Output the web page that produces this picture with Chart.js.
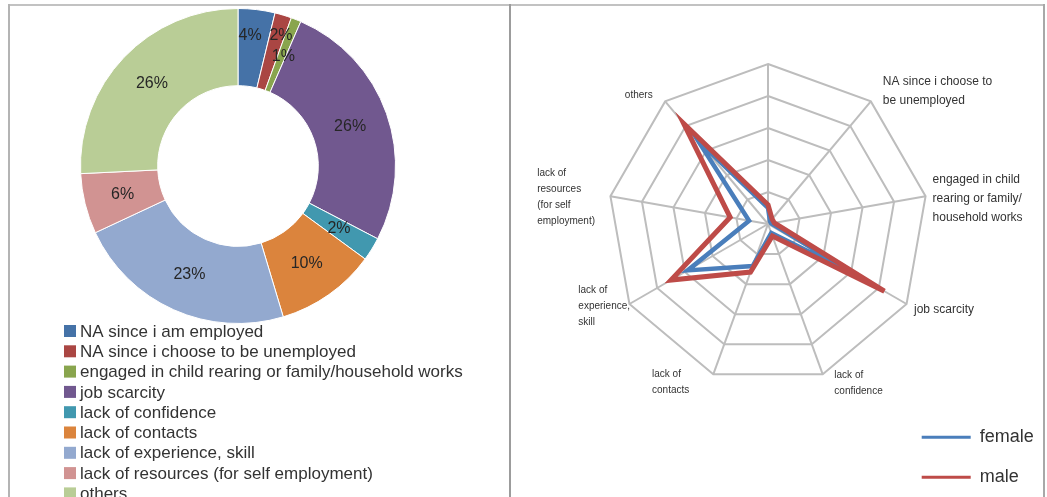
<!DOCTYPE html>
<html>
<head>
<meta charset="utf-8">
<script src="https://cdn.jsdelivr.net/npm/chart.js@4.4.1/dist/chart.umd.min.js"></script>
<style>
  html, body { margin: 0; padding: 0; background: #fff; width: 1047px; height: 497px; overflow: hidden; }
  canvas { position: absolute; top: 0; }
  .rule { position: absolute; }
</style>
</head>
<body>
<canvas id="reasons" width="509" height="497" style="left:0"></canvas>
<canvas id="byGender" width="533" height="497" style="left:511px"></canvas>
<div class="rule" style="left:8px;top:4px;width:1037px;height:2px;background:#c2c2c2"></div>
<div class="rule" style="left:8px;top:4px;width:2px;height:493px;background:#b4b4b4"></div>
<div class="rule" style="left:509px;top:4px;width:2px;height:493px;background:#9c9c9c"></div>
<div class="rule" style="left:1043px;top:4px;width:2px;height:493px;background:#a8a8a8"></div>
<script>
// Reasons for not working, all respondents
const reasons = [
  'NA since i am employed',
  'NA since i choose to be unemployed',
  'engaged in child rearing or family/household works',
  'job scarcity',
  'lack of confidence',
  'lack of contacts',
  'lack of experience, skill',
  'lack of resources (for self employment)',
  'others'
];
const allResponses = [11, 5, 3, 76, 7, 30, 66, 18, 75];

// Same reasons split by gender
const femaleResponses = [5, 1, 1, 33, 3, 14, 29, 6, 34];
const maleResponses   = [6, 2, 2, 42, 4, 16, 35, 12, 41];

// Wrapped captions around the radar (first spoke carries no caption)
const radarAxisLabels = [
  [],
  ['NA since i choose to', 'be unemployed'],
  ['engaged in child', 'rearing or family/', 'household works'],
  ['job scarcity'],
  ['lack of', 'confidence'],
  ['lack of', 'contacts'],
  ['lack of', 'experience,', 'skill'],
  ['lack of', 'resources', '(for self', 'employment)'],
  ['others']
];
const radarMax = 50;
const radarStep = 10;

const FONT = '"Liberation Sans", Arial, Helvetica, sans-serif';
const sliceColors = ['#4572A7', '#AA4643', '#89A54E', '#71588F', '#4198AF',
                     '#DB843D', '#93A9CF', '#D19392', '#B9CD96'];

// Percentage labels placed in the middle of each ring segment
const sliceLabels = {
  id: 'sliceLabels',
  afterDatasetsDraw(chart, args, opts) {
    const ctx = chart.ctx;
    const values = chart.data.datasets[0].data;
    const total = values.reduce((a, b) => a + b, 0);
    ctx.save();
    ctx.font = opts.font;
    ctx.fillStyle = opts.color;
    ctx.textAlign = 'center';
    ctx.textBaseline = 'middle';
    chart.getDatasetMeta(0).data.forEach((arc, i) => {
      const p = arc.getProps(['x', 'y', 'startAngle', 'endAngle', 'innerRadius', 'outerRadius'], true);
      const n = opts.nudge[i] || {};
      const a = (p.startAngle + p.endAngle) / 2 + (n.da || 0) * Math.PI / 180;
      const r = (p.innerRadius + p.outerRadius) / 2 + (n.dr || 0);
      ctx.fillText(Math.round(values[i] / total * 100) + '%', p.x + r * Math.cos(a), p.y + r * Math.sin(a));
    });
    ctx.restore();
  }
};

// Single-column legend under the ring
const columnLegend = {
  id: 'columnLegend',
  afterDraw(chart, args, opts) {
    const ctx = chart.ctx;
    const ds = chart.data.datasets[0];
    ctx.save();
    ctx.font = opts.font;
    ctx.textBaseline = 'middle';
    ctx.textAlign = 'left';
    chart.data.labels.forEach((label, i) => {
      const y = opts.top + i * opts.rowHeight;
      ctx.fillStyle = ds.backgroundColor[i];
      ctx.fillRect(opts.left, y - opts.box / 2, opts.box, opts.box);
      ctx.fillStyle = opts.color;
      ctx.fillText(label, opts.left + opts.box + opts.gap, y + 1);
    });
    ctx.restore();
  }
};

new Chart(document.getElementById('reasons'), {
  type: 'doughnut',
  data: {
    labels: reasons,
    datasets: [{
      data: allResponses,
      backgroundColor: sliceColors,
      borderColor: '#ffffff',
      borderWidth: 1
    }]
  },
  options: {
    responsive: false,
    animation: false,
    events: [],
    cutout: '51%',
    layout: { padding: { left: 80, right: 113, top: 8, bottom: 173 } },
    plugins: {
      legend: { display: false },
      tooltip: { enabled: false },
      sliceLabels: {
        font: '16px ' + FONT,
        color: '#262626',
        nudge: { 0: { dr: 12, da: -1.5 }, 1: { dr: 18, da: 1.6 }, 2: { da: 0.8 } }
      },
      columnLegend: {
        font: '17px ' + FONT,
        color: '#333333',
        left: 64, box: 12, gap: 4, top: 331, rowHeight: 20.3
      }
    }
  },
  plugins: [sliceLabels, columnLegend]
});

// Captions at the end of each radar spoke
const axisCaptions = {
  id: 'axisCaptions',
  afterDraw(chart, args, opts) {
    const scale = chart.scales.r;
    const ctx = chart.ctx;
    ctx.save();
    ctx.fillStyle = opts.color;
    ctx.textBaseline = 'middle';
    ctx.textAlign = 'left';
    radarAxisLabels.forEach((lines, i) => {
      if (!lines.length) return;
      const L = opts.layout[i];
      const v = scale.getPointPosition(i, scale.drawingArea);
      ctx.font = L.size + 'px ' + FONT;
      const w = Math.max(...lines.map(t => ctx.measureText(t).width));
      const left = L.side === 'right' ? v.x + L.dx - w : v.x + L.dx;
      lines.forEach((t, k) => ctx.fillText(t, left, v.y + L.dy + k * L.lh));
    });
    ctx.restore();
  }
};

// Line-sample legend in the lower right corner
const lineLegend = {
  id: 'lineLegend',
  afterDraw(chart, args, opts) {
    const ctx = chart.ctx;
    ctx.save();
    ctx.font = opts.font;
    ctx.textBaseline = 'middle';
    ctx.textAlign = 'left';
    chart.data.datasets.forEach((ds, i) => {
      const y = opts.top + i * opts.rowHeight;
      ctx.strokeStyle = ds.borderColor;
      ctx.lineWidth = 3;
      ctx.beginPath();
      ctx.moveTo(opts.left, y);
      ctx.lineTo(opts.left + opts.length, y);
      ctx.stroke();
      ctx.fillStyle = opts.color;
      ctx.fillText(ds.label, opts.left + opts.length + opts.gap, y);
    });
    ctx.restore();
  }
};

new Chart(document.getElementById('byGender'), {
  type: 'radar',
  data: {
    labels: reasons,
    datasets: [
      {
        label: 'female',
        data: femaleResponses,
        borderColor: '#4A7EBB',
        borderWidth: 4.5,
        borderJoinStyle: 'miter',
        fill: false,
        pointRadius: 0,
        order: 1
      },
      {
        label: 'male',
        data: maleResponses,
        borderColor: '#BE4B48',
        borderWidth: 5,
        borderJoinStyle: 'miter',
        fill: false,
        pointRadius: 0,
        order: 0
      }
    ]
  },
  options: {
    responsive: false,
    animation: false,
    events: [],
    layout: { padding: { left: 97, right: 116, top: 64, bottom: 113 } },
    scales: {
      r: {
        min: 0,
        max: radarMax,
        ticks: { display: false, stepSize: radarStep },
        grid: { color: '#bdbdbd', lineWidth: 2 },
        angleLines: { color: '#bdbdbd', lineWidth: 2 },
        pointLabels: { display: false }
      }
    },
    plugins: {
      legend: { display: false },
      tooltip: { enabled: false },
      axisCaptions: {
        color: '#333333',
        layout: [
          null,
          { side: 'left',  dx: 12,    dy: -19.7, size: 12, lh: 18.5 },
          { side: 'left',  dx: 7,     dy: -17,   size: 12, lh: 19 },
          { side: 'left',  dx: 7.4,   dy: 5.3,   size: 12, lh: 19 },
          { side: 'left',  dx: 11.6,  dy: 0.6,   size: 10, lh: 16 },
          { side: 'right', dx: -24,   dy: -0.4,  size: 10, lh: 16 },
          { side: 'right', dx: 0.6,   dy: -13.3, size: 10, lh: 16 },
          { side: 'right', dx: -15.4, dy: -22.9, size: 10, lh: 16 },
          { side: 'right', dx: -12.5, dy: -5.7,  size: 10, lh: 16 }
        ]
      },
      lineLegend: {
        font: '18px ' + FONT,
        color: '#333333',
        left: 410.7, length: 49, gap: 9, top: 437.3, rowHeight: 40
      }
    }
  },
  plugins: [axisCaptions, lineLegend]
});
</script>
</body>
</html>
